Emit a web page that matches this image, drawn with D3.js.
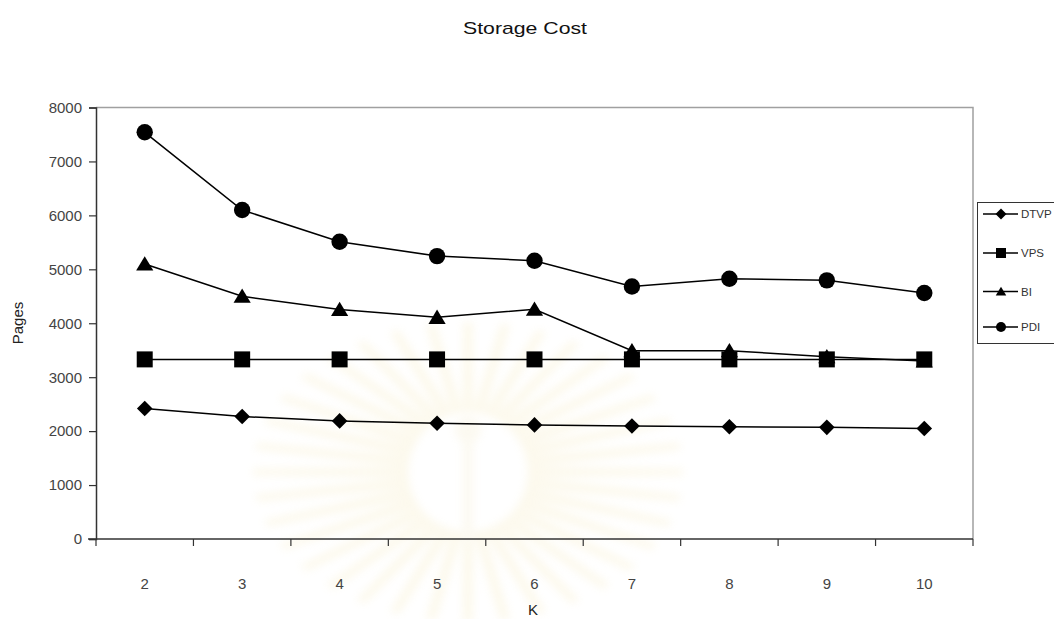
<!DOCTYPE html>
<html>
<head>
<meta charset="utf-8">
<script src="https://cdn.jsdelivr.net/npm/d3@7"></script>
<style>
  html, body { margin: 0; padding: 0; background: #fff; }
  svg { display: block; font-family: "Liberation Sans", Arial, sans-serif; }
</style>
</head>
<body>
<svg id="chart" width="1054" height="619"></svg>
<script>
// Storage cost (pages) for each K
const kValues = ["2", "3", "4", "5", "6", "7", "8", "9", "10"];
const dtvp = [2420, 2270, 2190, 2145, 2115, 2095, 2080, 2070, 2050];
const vps  = [3330, 3330, 3330, 3330, 3330, 3330, 3330, 3330, 3330];
const bi   = [5100, 4500, 4255, 4110, 4260, 3490, 3490, 3380, 3300];
const pdi  = [7540, 6100, 5510, 5245, 5160, 4680, 4825, 4795, 4560];
const yTicks = [0, 1000, 2000, 3000, 4000, 5000, 6000, 7000, 8000];
const seriesNames = ["DTVP", "VPS", "BI", "PDI"];

const series = [
  { name: seriesNames[0], values: dtvp, shape: "diamond" },
  { name: seriesNames[1], values: vps,  shape: "square" },
  { name: seriesNames[2], values: bi,   shape: "triangle" },
  { name: seriesNames[3], values: pdi,  shape: "circle" }
];

const svg = d3.select("#chart");
const plot = { left: 96, right: 973, top: 107.5, bottom: 539 };

const x = d3.scaleBand().domain(kValues).range([plot.left, plot.right]).paddingInner(0).paddingOuter(0);
const y = d3.scaleLinear().domain([0, 8000]).range([plot.bottom, plot.top]);

// very faint emblem in the background
const defs = svg.append("defs");
defs.append("filter").attr("id", "soft").attr("x", "-20%").attr("y", "-20%").attr("width", "140%").attr("height", "140%")
  .append("feGaussianBlur").attr("stdDeviation", 4);
const wm = svg.append("g").attr("transform", "translate(468,472)")
  .attr("opacity", 0.22).attr("filter", "url(#soft)");
const nRays = 36;
for (let i = 0; i < nRays; i++) {
  const a = (i / nRays) * 2 * Math.PI;
  const w = 0.055;
  const r0 = 60, rx = 215, ry = 150;
  const p = [
    [r0 * Math.cos(a - w * 1.6), r0 * Math.sin(a - w * 1.6)],
    [rx * Math.cos(a - w * 0.4), ry * Math.sin(a - w * 0.4)],
    [rx * Math.cos(a + w * 0.4), ry * Math.sin(a + w * 0.4)],
    [r0 * Math.cos(a + w * 1.6), r0 * Math.sin(a + w * 1.6)]
  ];
  wm.append("path").attr("d", "M" + p.join("L") + "Z").attr("fill", "#f3e3a8");
}
wm.append("circle").attr("cx", 0).attr("cy", -42).attr("r", 13).attr("fill", "#f1e6c0");
wm.append("rect").attr("x", -5).attr("y", -30).attr("width", 10).attr("height", 100).attr("fill", "#f1e6c0");

// plot frame (top and right)
svg.append("path")
  .attr("d", `M${plot.left},${plot.top}H${plot.right}V${plot.bottom}`)
  .attr("fill", "none").attr("stroke", "#a0a0a0").attr("stroke-width", 1.5);

// y axis
const yAxis = svg.append("g")
  .attr("transform", `translate(${plot.left},0)`)
  .call(d3.axisLeft(y).tickValues(yTicks).tickSize(7).tickPadding(7).tickFormat(d3.format("d")));
yAxis.select(".domain").attr("stroke", "#333").attr("stroke-width", 1.5);
yAxis.selectAll(".tick line").attr("stroke", "#333").attr("stroke-width", 1.2);
yAxis.selectAll(".tick text").attr("fill", "#444").style("font-size", "15px")
  .style("font-family", "Liberation Sans, Arial, sans-serif");

// x axis: ticks on category boundaries
const xAxisG = svg.append("g").attr("transform", `translate(0,${plot.bottom})`);
xAxisG.append("line").attr("x1", plot.left - 8).attr("x2", plot.right).attr("y1", 0).attr("y2", 0)
  .attr("stroke", "#333").attr("stroke-width", 1.5);
const boundaries = kValues.map(k => x(k)).concat([x(kValues[kValues.length - 1]) + x.bandwidth()]);
xAxisG.selectAll("line.tick").data(boundaries).join("line").attr("class", "tick")
  .attr("x1", d => d).attr("x2", d => d).attr("y1", 0).attr("y2", 7)
  .attr("stroke", "#333").attr("stroke-width", 1.2);
xAxisG.selectAll("text").data(kValues).join("text")
  .attr("x", d => x(d) + x.bandwidth() / 2).attr("y", 44)
  .attr("text-anchor", "middle").attr("dominant-baseline", "central")
  .attr("fill", "#444").style("font-size", "15px").text(d => d);

// titles
svg.append("text").attr("x", 525).attr("y", 28).attr("text-anchor", "middle")
  .attr("dominant-baseline", "central").attr("fill", "#111").style("font-size", "17px")
  .attr("textLength", 124).attr("lengthAdjust", "spacingAndGlyphs")
  .text("Storage Cost");
svg.append("text").attr("x", 533).attr("y", 609).attr("text-anchor", "middle")
  .attr("dominant-baseline", "central").attr("fill", "#222").style("font-size", "15px").text("K");
svg.append("text").attr("transform", "translate(17,323) rotate(-90)").attr("text-anchor", "middle")
  .attr("dominant-baseline", "central").attr("fill", "#222").style("font-size", "15px").text("Pages");

// marker shapes
function markerPath(shape, s) {
  switch (shape) {
    case "diamond": return `M0,${-s}L${s},0L0,${s}L${-s},0Z`;
    case "square": return `M${-s},${-s}H${s}V${s}H${-s}Z`;
    case "triangle": return `M0,${-s * 0.95}L${s * 1.05},${s * 0.8}H${-s * 1.05}Z`;
    case "circle": return `M${s},0A${s},${s} 0 1,1 ${-s},0A${s},${s} 0 1,1 ${s},0Z`;
  }
}
const markerSize = { diamond: 7.8, square: 8, triangle: 8.2, circle: 8.2 };

const line = d3.line().x((d, i) => x(kValues[i]) + x.bandwidth() / 2).y(d => y(d));

series.forEach(s => {
  const g = svg.append("g");
  g.append("path").attr("d", line(s.values)).attr("fill", "none")
    .attr("stroke", "#000").attr("stroke-width", 1.5);
  g.selectAll("path.mark").data(s.values).join("path").attr("class", "mark")
    .attr("transform", (d, i) => `translate(${x(kValues[i]) + x.bandwidth() / 2},${y(d)})`)
    .attr("d", markerPath(s.shape, markerSize[s.shape])).attr("fill", "#000");
});

// legend
const leg = svg.append("g");
leg.append("rect").attr("x", 977.5).attr("y", 202.5).attr("width", 80).attr("height", 141)
  .attr("fill", "#fff").attr("stroke", "#333").attr("stroke-width", 1);
const legY = [214, 253, 291.5, 327];
series.forEach((s, i) => {
  const gy = legY[i];
  leg.append("line").attr("x1", 983).attr("x2", 1018).attr("y1", gy).attr("y2", gy)
    .attr("stroke", "#000").attr("stroke-width", 1.5);
  leg.append("path").attr("transform", `translate(1001,${gy})`)
    .attr("d", markerPath(s.shape, s.shape === "diamond" ? 5.5 : 5)).attr("fill", "#000");
  leg.append("text").attr("x", 1021).attr("y", gy)
    .attr("dominant-baseline", "central").attr("fill", "#333").style("font-size", "11.5px")
    .text(s.name);
});
</script>
</body>
</html>
